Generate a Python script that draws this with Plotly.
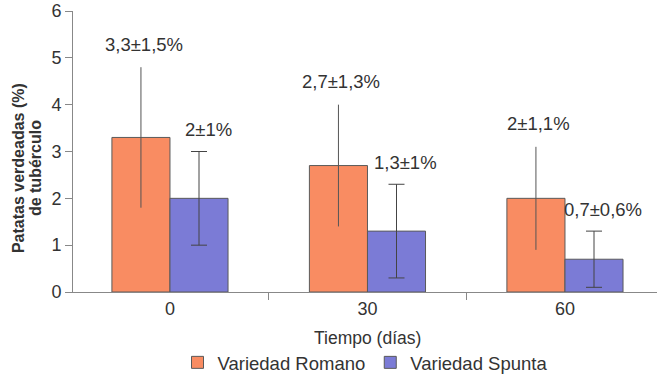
import plotly.graph_objects as go

dias = ["0", "30", "60"]
romano = [3.3, 2.7, 2.0]
romano_err = [1.5, 1.3, 1.1]
romano_lbl = ["3,3±1,5%", "2,7±1,3%", "2±1,1%"]
spunta = [2.0, 1.3, 0.7]
spunta_err = [1.0, 1.0, 0.6]
spunta_lbl = ["2±1%", "1,3±1%", "0,7±0,6%"]
y_title = ["Patatas verdeadas (%)", "de tubérculo"]
x_title = "Tiempo (días)"

FONT = "Liberation Sans, Arial, sans-serif"
ORANGE = "#F98C62"
BLUE = "#7B7BD6"
EDGE = "#5a5a5a"

xs = list(range(len(dias)))
fig = go.Figure()
fig.add_trace(go.Bar(
    x=xs, y=romano, name="Variedad Romano",
    marker=dict(color=ORANGE, line=dict(color=EDGE, width=1)),
    error_y=dict(type="data", array=romano_err, color="#555555", thickness=1, width=0),
))
fig.add_trace(go.Bar(
    x=xs, y=spunta, name="Variedad Spunta",
    marker=dict(color=BLUE, line=dict(color=EDGE, width=1)),
    error_y=dict(type="data", array=spunta_err, color="#444444", thickness=1, width=8),
))

bw = (1 - 0.412) / 2
for i in xs:
    fig.add_annotation(x=i - bw / 2, y=romano[i] + romano_err[i], text=romano_lbl[i],
                       showarrow=False, yanchor="middle", yshift=23, xshift=3,
                       font=dict(family=FONT, size=18.5, color="#333333"))
    fig.add_annotation(x=i + bw / 2, y=spunta[i] + spunta_err[i], text=spunta_lbl[i],
                       showarrow=False, yanchor="middle", yshift=22, xshift=9,
                       font=dict(family=FONT, size=18.5, color="#333333"))

for k, line in enumerate(y_title):
    fig.add_annotation(xref="paper", yref="paper", x=0, y=0.441, xshift=-55 + 17 * k,
                       text="<b>" + line + "</b>", textangle=-90, showarrow=False,
                       xanchor="center", yanchor="middle",
                       font=dict(family=FONT, size=16, color="#333333"))

fig.add_annotation(xref="x", yref="paper", x=1, y=-0.164, text=x_title, showarrow=False,
                   xanchor="center", yanchor="middle",
                   font=dict(family=FONT, size=17.5, color="#333333"))

fig.update_layout(
    width=657, height=376,
    margin=dict(l=73, r=0, t=11, b=84),
    paper_bgcolor="white", plot_bgcolor="white",
    barmode="group", bargap=0.412, bargroupgap=0,
    font=dict(family=FONT, size=16, color="#333333"),
    showlegend=True,
    legend=dict(orientation="h", x=0.5, xanchor="center", yref="container", y=0.035, yanchor="middle",
                font=dict(family=FONT, size=18.5, color="#333333"), itemwidth=30),
    xaxis=dict(
        automargin=False,
        range=[-0.491, 2.466], tickvals=xs, ticktext=dias,
        showline=True, linecolor="#888888", linewidth=1,
        ticks="", showgrid=False, zeroline=False,
        tickfont=dict(size=18),
        minor=dict(tickvals=[0.5, 1.5], ticks="outside", ticklen=7, tickcolor="#888888"),
    ),
    yaxis=dict(
        automargin=False,
        range=[0, 6], dtick=1, showline=True, linecolor="#888888", linewidth=1,
        ticks="outside", ticklen=7, tickcolor="#888888",
        showgrid=False, zeroline=False, tickfont=dict(size=18),
    ),
)

fig.write_html("out.html", config={"displayModeBar": False},
               post_script="document.body.style.margin='0';document.body.style.overflow='hidden';")
